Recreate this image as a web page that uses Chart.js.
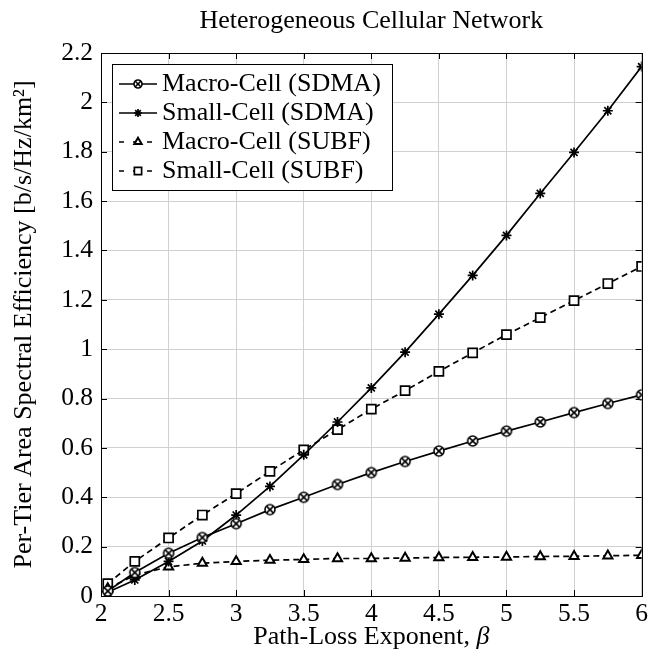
<!DOCTYPE html>
<html>
<head>
<meta charset="utf-8">
<script src="https://cdn.jsdelivr.net/npm/chart.js@4.4.0/dist/chart.umd.min.js"></script>
<style>
  html, body { margin: 0; padding: 0; background: #fff; }
</style>
</head>
<body>
<canvas id="chart" width="651" height="660"></canvas>
<script>
// values
const beta = [2.05, 2.25, 2.5, 2.75, 3, 3.25, 3.5, 3.75, 4, 4.25, 4.5, 4.75, 5, 5.25, 5.5, 5.75, 6];
const macroSdma = [0.02, 0.095, 0.173, 0.237, 0.293, 0.35, 0.40, 0.452, 0.50, 0.545, 0.587, 0.628, 0.668, 0.705, 0.743, 0.78, 0.815];
const smallSdma = [0.015, 0.065, 0.14, 0.223, 0.328, 0.444, 0.572, 0.705, 0.843, 0.988, 1.142, 1.299, 1.461, 1.631, 1.797, 1.966, 2.145];
const macroSubf = [0.03, 0.085, 0.118, 0.133, 0.14, 0.145, 0.148, 0.152, 0.152, 0.154, 0.156, 0.157, 0.158, 0.16, 0.161, 0.163, 0.165];
const smallSubf = [0.05, 0.14, 0.235, 0.328, 0.415, 0.505, 0.592, 0.674, 0.757, 0.832, 0.91, 0.985, 1.059, 1.128, 1.197, 1.266, 1.335];
const seriesNames = ["Macro-Cell (SDMA)", "Small-Cell (SDMA)", "Macro-Cell (SUBF)", "Small-Cell (SUBF)"];

const chartTitle = "Heterogeneous Cellular Network";
const xTitle = "Path-Loss Exponent, ";
const xTitleSymbol = "\u03B2";
const yTitle = "Per-Tier Area Spectral Efficiency [b/s/Hz/km\u00B2]";

const FONT = '"Liberation Serif", "DejaVu Serif", serif';

// circle with a cross inside (pgfplots "otimes")
function otimesMarker(r, lw) {
  const c = document.createElement("canvas");
  const s = Math.ceil(2 * r + 4);
  c.width = s;
  c.height = s;
  const g = c.getContext("2d");
  const m = s / 2;
  g.lineWidth = lw;
  g.strokeStyle = "#000";
  g.fillStyle = "#fff";
  g.beginPath();
  g.arc(m, m, r, 0, Math.PI * 2);
  g.fill();
  g.stroke();
  const d = r * 0.68;
  g.beginPath();
  g.moveTo(m - d, m - d); g.lineTo(m + d, m + d);
  g.moveTo(m + d, m - d); g.lineTo(m - d, m + d);
  g.stroke();
  return c;
}
const otimes = otimesMarker(5, 1.6);
const otimesSmall = otimesMarker(4, 1.6);

function pts(ys) {
  return beta.map((b, i) => ({ x: b, y: ys[i] }));
}

const datasets = [
  {
    label: seriesNames[0], data: pts(macroSdma),
    borderColor: "#000", borderWidth: 1.7,
    pointStyle: otimes, pointRadius: 5, legendStyle: otimesSmall
  },
  {
    label: seriesNames[1], data: pts(smallSdma),
    borderColor: "#000", borderWidth: 1.7,
    pointStyle: "star", pointRadius: 5, pointBorderWidth: 1.7,
    pointBorderColor: "#000", pointBackgroundColor: "#000"
  },
  {
    label: seriesNames[2], data: pts(macroSubf),
    borderColor: "#000", borderWidth: 1.7, borderDash: [6, 4],
    pointStyle: "triangle", pointRadius: 5.3, pointBorderWidth: 2,
    pointBorderColor: "#000", pointBackgroundColor: "#fff"
  },
  {
    label: seriesNames[3], data: pts(smallSubf),
    borderColor: "#000", borderWidth: 1.7, borderDash: [6, 4],
    pointStyle: "rect", pointRadius: 6.4, pointBorderWidth: 1.7,
    pointBorderColor: "#000", pointBackgroundColor: "#fff"
  }
];

// frame and inward tick marks like pgfplots
const framePlugin = {
  id: "frame",
  beforeDatasetsDraw(chart) {
    const { ctx, chartArea: a, scales } = chart;
    ctx.save();
    ctx.strokeStyle = "#000";
    ctx.lineWidth = 1;
    ctx.beginPath();
    scales.x.ticks.forEach((t) => {
      const x = Math.round(scales.x.getPixelForValue(t.value)) + 0.5;
      ctx.moveTo(x, a.bottom); ctx.lineTo(x, a.bottom - 6);
      ctx.moveTo(x, a.top); ctx.lineTo(x, a.top + 6);
    });
    scales.y.ticks.forEach((t) => {
      const y = Math.round(scales.y.getPixelForValue(t.value)) + 0.5;
      ctx.moveTo(a.left, y); ctx.lineTo(a.left + 6, y);
      ctx.moveTo(a.right, y); ctx.lineTo(a.right - 6, y);
    });
    ctx.stroke();
    ctx.strokeRect(Math.round(a.left) + 0.5, Math.round(a.top) + 0.5,
      Math.round(a.right - a.left), Math.round(a.bottom - a.top));
    ctx.restore();
  }
};

const textPlugin = {
  id: "paperText",
  afterDraw(chart) {
    const { ctx, chartArea: a } = chart;
    const cx = (a.left + a.right) / 2;
    ctx.save();
    ctx.fillStyle = "#000";
    ctx.textBaseline = "alphabetic";
    ctx.font = "26px " + FONT;
    ctx.textAlign = "center";
    ctx.fillText(chartTitle, cx, 28);

    // x-axis title with italic beta
    ctx.textAlign = "left";
    const w1 = ctx.measureText(xTitle).width;
    ctx.font = "italic 26px " + FONT;
    const w2 = ctx.measureText(xTitleSymbol).width;
    const x0 = cx - (w1 + w2) / 2;
    ctx.font = "26px " + FONT;
    ctx.fillText(xTitle, x0, 644);
    ctx.font = "italic 26px " + FONT;
    ctx.fillText(xTitleSymbol, x0 + w1, 644);
    ctx.restore();
  }
};

const legendPlugin = {
  id: "boxLegend",
  afterDatasetsDraw(chart) {
    const { ctx } = chart;
    const left = 112, top = 64, right = 392, bottom = 190, rowH = 29;
    ctx.save();
    ctx.fillStyle = "#fff";
    ctx.fillRect(left, top, right - left, bottom - top);
    ctx.strokeStyle = "#000";
    ctx.lineWidth = 1;
    ctx.strokeRect(left + 0.5, top + 0.5, right - left, bottom - top);

    ctx.font = "26px " + FONT;
    chart.data.datasets.forEach((ds, i) => {
      const y = top + 20 + rowH * i;
      ctx.strokeStyle = "#000";
      ctx.lineWidth = ds.borderWidth;
      ctx.setLineDash(ds.borderDash ? [5, 9] : []);
      ctx.beginPath();
      ctx.moveTo(left + 7, y);
      ctx.lineTo(left + 45, y);
      ctx.stroke();
      ctx.setLineDash([]);
      const mx = left + 26;
      const img = ds.legendStyle || ds.pointStyle;
      if (img instanceof HTMLCanvasElement) {
        ctx.drawImage(img, mx - img.width / 2, y - img.height / 2);
      } else {
        ctx.fillStyle = ds.pointBackgroundColor;
        ctx.strokeStyle = ds.pointBorderColor;
        ctx.lineWidth = ds.pointBorderWidth;
        Chart.helpers.drawPoint(ctx, {
          pointStyle: ds.pointStyle, radius: ds.pointRadius * 0.8,
          borderWidth: ds.pointBorderWidth, rotation: 0
        }, mx, y);
      }
      ctx.fillStyle = "#000";
      ctx.textAlign = "left";
      ctx.textBaseline = "middle";
      ctx.fillText(ds.label, left + 50, y);
    });
    ctx.restore();
  }
};

new Chart(document.getElementById("chart"), {
  type: "line",
  data: { datasets: datasets },
  options: {
    responsive: false,
    animation: false,
    events: [],
    layout: { padding: { left: 0, right: 8, top: 53, bottom: 0 } },
    elements: { line: { tension: 0, fill: false } },
    plugins: {
      legend: { display: false },
      title: { display: false },
      tooltip: { enabled: false }
    },
    scales: {
      x: {
        type: "linear",
        min: 2, max: 6,
        afterFit(scale) { scale.height = 64; },
        ticks: {
          stepSize: 0.5, color: "#000", padding: 3,
          font: { family: FONT, size: 25.5 },
          callback: (v) => String(v)
        },
        grid: { color: "#d0d0d0", lineWidth: 1, drawTicks: false },
        border: { display: false }
      },
      y: {
        min: 0, max: 2.2,
        afterFit(scale) { scale.width = 101; },
        ticks: {
          stepSize: 0.2, color: "#000", padding: 8,
          font: { family: FONT, size: 25.5 },
          callback: (v) => String(Math.round(v * 10) / 10)
        },
        grid: { color: "#d0d0d0", lineWidth: 1, drawTicks: false },
        border: { display: false },
        title: {
          display: true, text: yTitle, color: "#000",
          font: { family: FONT, size: 26 },
          padding: { top: 9, bottom: 0 }
        }
      }
    }
  },
  plugins: [framePlugin, legendPlugin, textPlugin]
});
</script>
</body>
</html>
